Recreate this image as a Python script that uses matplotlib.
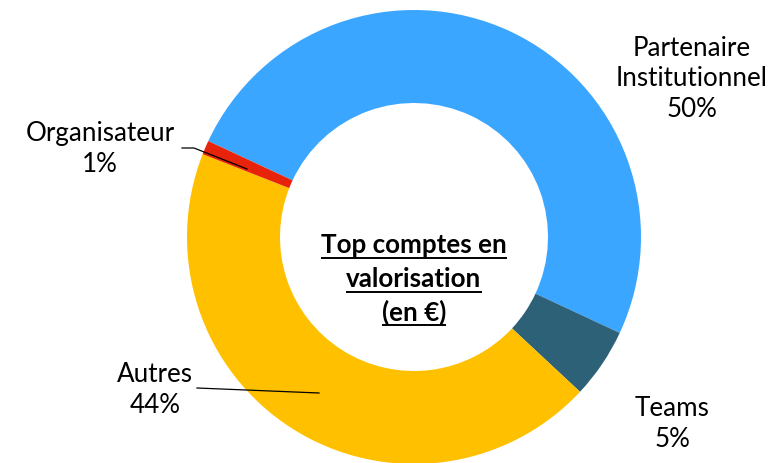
import matplotlib
matplotlib.use("Agg")
import matplotlib.pyplot as plt

# Account shares (valorisation, %)
categories = ["Partenaire\nInstitutionnel", "Teams", "Autres", "Organisateur"]
values = [50, 5, 44, 1]
colors = ["#3AA6FF", "#2D6178", "#FFC000", "#E8230C"]

W, H = 772, 463
fig = plt.figure(figsize=(W / 100, H / 100), dpi=100)
ax = fig.add_axes([0, 0, 1, 1])

cx, cy, R = 414, H - 237, 227
ax.pie(values, colors=colors, startangle=155, counterclock=False,
       center=(cx, cy), radius=R,
       wedgeprops=dict(width=R - 134, edgecolor="none"))
ax.set_xlim(0, W)
ax.set_ylim(0, H)
ax.set_aspect("auto")
ax.axis("off")

font = "Lato"
fs = 18.7
lab_kw = dict(ha="center", va="center", fontsize=fs, family=font,
              color="#000000", linespacing=1.27)

# Slice labels (name + percentage)
label_pos = [(692, H - 79), (672, H - 424), (155, H - 390), (100, H - 149)]
for name, v, (x, y) in zip(categories, values, label_pos):
    ax.text(x, y, f"{name}\n{v:.0f}%", **lab_kw)

# Leader lines
ax.plot([182, 194, 247], [H - 148, H - 148, H - 169], color="black", lw=0.9)
ax.plot([197, 319], [H - 388, H - 393], color="black", lw=0.9)

# Centre title, bold and underlined
title_lines = ["Top comptes en", "valorisation", "(en €)"]
title_y = [H - 245, H - 279, H - 312]
fig.canvas.draw()
renderer = fig.canvas.get_renderer()
inv = ax.transData.inverted()
for line, y in zip(title_lines, title_y):
    t = ax.text(cx, y, line, ha="center", va="center", fontsize=fs,
                family=font, fontweight="bold", color="#000000")
    bb = t.get_window_extent(renderer)
    (x0, _), (x1, _) = inv.transform([(bb.x0, bb.y0), (bb.x1, bb.y0)])
    ax.plot([x0, x1], [y - 12.5, y - 12.5], color="black", lw=1.4,
            solid_capstyle="butt")

fig.savefig("out.png", dpi=100)
